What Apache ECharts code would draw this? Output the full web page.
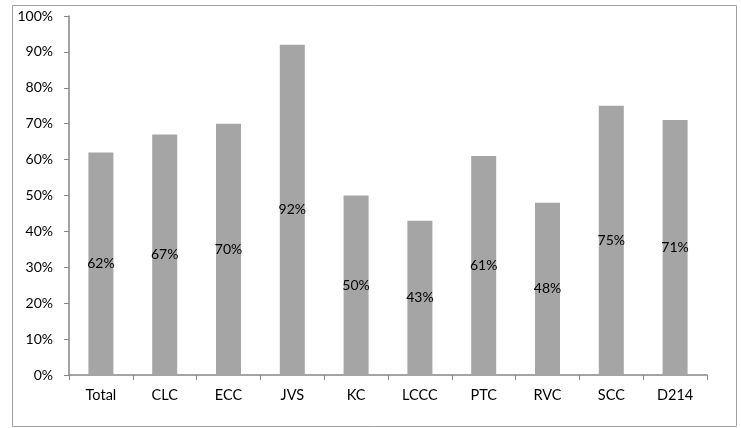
<!DOCTYPE html>
<html>
<head>
<meta charset="utf-8">
<script src="https://cdn.jsdelivr.net/npm/echarts@6/dist/echarts.min.js"></script>
<style>
  html, body { margin: 0; padding: 0; background: #fff; }
  #container { width: 741px; height: 428px; }
</style>
</head>
<body>
<div id="container"></div>
<script>
// categories and values
var categories = ['Total', 'CLC', 'ECC', 'JVS', 'KC', 'LCCC', 'PTC', 'RVC', 'SCC', 'D214'];
var percentValues = [62, 67, 70, 92, 50, 43, 61, 48, 75, 71];

var myChart = echarts.init(document.getElementById('container'));
var fontName = 'Lato, "Open Sans", sans-serif';

var option = {
    animation: false,
    backgroundColor: '#fff',
    graphic: [{
        type: 'rect',
        shape: { x: 12.5, y: 5.5, width: 724, height: 421 },
        style: { fill: 'none', stroke: '#a0a0a0', lineWidth: 1 },
        silent: true
    }],
    grid: {
        left: 69,
        right: 34,
        top: 16,
        bottom: 53
    },
    xAxis: {
        type: 'category',
        data: categories,
        axisLine: { lineStyle: { color: '#868686', width: 1.5 } },
        axisTick: { show: true, length: 5, lineStyle: { color: '#868686' } },
        axisLabel: { color: '#000', fontSize: 14.5, fontFamily: fontName, margin: 13 }
    },
    yAxis: {
        type: 'value',
        min: 0,
        max: 100,
        interval: 10,
        splitLine: { show: false },
        axisLine: { show: true, lineStyle: { color: '#868686', width: 1.5 } },
        axisTick: { show: true, length: 5, lineStyle: { color: '#868686' } },
        axisLabel: {
            color: '#000',
            fontSize: 14,
            fontFamily: fontName,
            margin: 16,
            formatter: '{value}%'
        }
    },
    series: [{
        type: 'bar',
        data: percentValues,
        barWidth: 25,
        itemStyle: { color: '#a5a5a5' },
        label: {
            show: true,
            position: 'inside',
            color: '#000',
            fontSize: 14,
            fontFamily: fontName,
            formatter: '{c}%'
        }
    }]
};

myChart.setOption(option);
</script>
</body>
</html>
